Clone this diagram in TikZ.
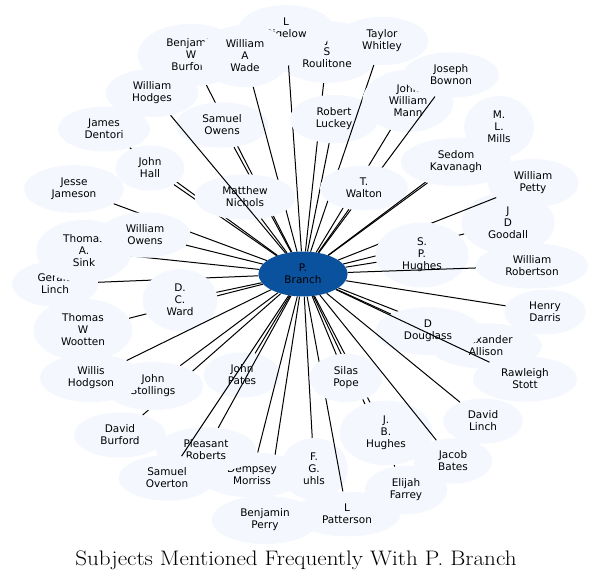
\documentclass[tikz,border=0pt]{standalone}
\usepackage{fontspec}
\newfontfamily\labelfont{DejaVu Sans}
\usetikzlibrary{shapes.geometric}
\definecolor{bolha}{RGB}{244,248,254}
\definecolor{centro}{RGB}{11,82,158}

\begin{document}
\begin{tikzpicture}[
      x=1pt, y=-1pt,
      subj/.style={ellipse, fill=bolha, inner xsep=13pt, inner ysep=6pt,
                   minimum width=54pt, minimum height=36pt, align=center,
                   font=\labelfont\fontsize{10.5}{12}\selectfont},
      hub/.style={subj, fill=centro, text=black},
      link/.style={line width=1pt, black},
      titulo/.style={font=\fontsize{21}{24}\selectfont, inner sep=0pt}
  ]
      \useasboundingbox (0,0) rectangle (594,582);

      % Centro
      \node[hub] (branch) at (303,274) {P.\\Branch};

      % Topo
      \node[subj] (roulitone) at (327,52) {J\\S\\Roulitone};
      \draw[link] (branch) -- (roulitone);
      \node[subj] (bigelow) at (286,29) {L\\Bigelow};
      \draw[link] (branch) -- (bigelow);
      \node[subj] (bburford) at (191,55) {Benjamin\\W\\Burford};
      \draw[link] (branch) -- (bburford);
      \node[subj] (sowens) at (222,125) {Samuel\\Owens};
      \draw[link] (branch) -- (sowens);
      \node[subj] (wade) at (245,56) {William\\A\\Wade};
      \draw[link] (branch) -- (wade);
      \node[subj] (denton) at (104,129) {James\\Dentori};
      \draw[link] (branch) -- (denton);
      \node[subj] (hall) at (150,168) {John\\Hall};
      \draw[link] (branch) -- (hall);
      \node[subj] (nichols) at (245,197) {Matthew\\Nichols};
      \draw[link] (branch) -- (nichols);
      \node[subj] (hodges) at (152,93) {William\\Hodges};
      \draw[link] (branch) -- (hodges);
      \node[subj] (luckey) at (334,119) {Robert\\Luckey};
      \draw[link] (branch) -- (luckey);
      \node[subj] (whitley) at (382,41) {Taylor\\Whitley};
      \draw[link] (branch) -- (whitley);

      % Direita
      \node[subj] (mann) at (408,101) {John\\William\\Mann};
      \draw[link] (branch) -- (mann);
      \node[subj] (bownon) at (451,75) {Joseph\\Bownon};
      \draw[link] (branch) -- (bownon);
      \node[subj] (walton) at (364,188) {T.\\Walton};
      \draw[link] (branch) -- (walton);
      \node[subj] (mills) at (499,127) {M.\\L.\\Mills};
      \draw[link] (branch) -- (mills);
      \node[subj] (kavanagh) at (456,162) {Sedom\\Kavanagh};
      \draw[link] (branch) -- (kavanagh);
      \node[subj] (goodall) at (508,223) {J\\D\\Goodall};
      \draw[link] (branch) -- (goodall);
      \node[subj] (petty) at (533,183) {William\\Petty};
      \draw[link] (branch) -- (petty);
      \node[subj] (sphughes) at (422,255) {S.\\P.\\Hughes};
      \draw[link] (branch) -- (sphughes);
      \node[subj] (robertson) at (532,266) {William\\Robertson};
      \draw[link] (branch) -- (robertson);
      \node[subj] (darris) at (545,312) {Henry\\Darris};
      \draw[link] (branch) -- (darris);
      \node[subj] (allison) at (486,346) {Alexander\\Allison};
      \draw[link] (branch) -- (allison);
      \node[subj] (douglass) at (428,331) {D\\Douglass};
      \draw[link] (branch) -- (douglass);
      \node[subj] (stott) at (525,379) {Rawleigh\\Stott};
      \draw[link] (branch) -- (stott);
      \node[subj] (dlinch) at (483,421) {David\\Linch};
      \draw[link] (branch) -- (dlinch);

      % Esquerda
      \node[subj] (jameson) at (74,189) {Jesse\\Jameson};
      \draw[link] (branch) -- (jameson);
      \node[subj] (glinch) at (55,284) {Gerald\\Linch};
      \draw[link] (branch) -- (glinch);
      \node[subj] (sink) at (84,251) {Thomas\\A.\\Sink};
      \draw[link] (branch) -- (sink);
      \node[subj] (wowens) at (145,235) {William\\Owens};
      \draw[link] (branch) -- (wowens);
      \node[subj] (wootten) at (83,330) {Thomas\\W\\Wootten};
      \draw[link] (branch) -- (wootten);
      \node[subj] (ward) at (180,300) {D.\\C.\\Ward};
      \draw[link] (branch) -- (ward);
      \node[subj] (dburford) at (120,435) {David\\Burford};
      \draw[link] (branch) -- (dburford);
      \node[subj] (stollings) at (153,386) {John\\Stollings};
      \draw[link] (branch) -- (stollings);
      \node[subj] (hodgson) at (91,378) {Willis\\Hodgson};
      \draw[link] (branch) -- (hodgson);

      % Base
      \node[subj] (pates) at (242,375) {John\\Pates};
      \draw[link] (branch) -- (pates);
      \node[subj] (perry) at (265,520) {Benjamin\\Perry};
      \draw[link] (branch) -- (perry);
      \node[subj] (morriss) at (252,475) {Dempsey\\Morriss};
      \draw[link] (branch) -- (morriss);
      \node[subj] (proberts) at (206,450) {Pleasant\\Roberts};
      \draw[link] (branch) -- (proberts);
      \node[subj] (overton) at (167,478) {Samuel\\Overton};
      \draw[link] (branch) -- (overton);
      \node[subj] (uhls) at (314,469) {F.\\G.\\uhls};
      \draw[link] (branch) -- (uhls);
      \node[subj] (patterson) at (347,514) {L\\Patterson};
      \draw[link] (branch) -- (patterson);
      \node[subj] (farrey) at (406,490) {Elijah\\Farrey};
      \draw[link] (branch) -- (farrey);
      \node[subj] (jbhughes) at (386,433) {J.\\B.\\Hughes};
      \draw[link] (branch) -- (jbhughes);
      \node[subj] (pope) at (346,378) {Silas\\Pope};
      \draw[link] (branch) -- (pope);
      \node[subj] (bates) at (453,461) {Jacob\\Bates};
      \draw[link] (branch) -- (bates);

      % Titulo
      \node[titulo] (title) at (296,560)
            {\scalebox{1.1}[1]{Subjects Mentioned Frequently With P. Branch}};
  \end{tikzpicture}
\end{document}
